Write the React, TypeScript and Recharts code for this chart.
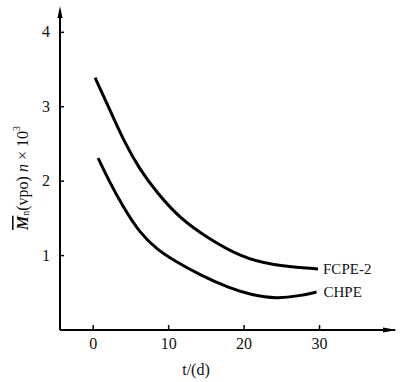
import React from "react";
import { LineChart, Line, XAxis, YAxis, ReferenceDot } from "recharts";

const fcpeT = [0.25, 2.2, 4.0, 6.2, 8.5, 11.5, 15.1, 19.6, 23.6, 29.8];
const fcpeM = [3.39, 2.96, 2.55, 2.15, 1.84, 1.5, 1.24, 0.98, 0.87, 0.82];
const chpeT = [0.65, 2.2, 4.0, 6.2, 8.5, 10.6, 14.1, 18.1, 21.0, 24.3, 27.4, 29.6];
const chpeM = [2.31, 1.98, 1.65, 1.3, 1.08, 0.94, 0.74, 0.56, 0.47, 0.42, 0.46, 0.51];
const xTicks = [0, 10, 20, 30];
const yTicks = [1, 2, 3, 4];
const seriesNames = ["FCPE-2", "CHPE"];

const fcpeData = fcpeT.map((t, i) => ({ t, m: fcpeM[i] }));
const chpeData = chpeT.map((t, i) => ({ t, m: chpeM[i] }));

const FONT = "'Liberation Serif', 'Times New Roman', serif";

const YTick = (props: any) => {
  const { x, y, payload } = props;
  return (
    <g>
      <line x1={x + 8} x2={x + 12} y1={y} y2={y} stroke="#000" strokeWidth={1.5} />
      <text x={x - 2} y={y} dy={5} textAnchor="end" style={{ fontFamily: FONT, fontSize: 16 }} fill="#111">
        {payload.value}
      </text>
    </g>
  );
};

const XTick = (props: any) => {
  const { x, y, payload } = props;
  return (
    <g>
      <line x1={x} x2={x} y1={y - 6} y2={y - 11} stroke="#000" strokeWidth={1.5} />
      <text x={x} y={y + 13} textAnchor="middle" style={{ fontFamily: FONT, fontSize: 16 }} fill="#111">
        {payload.value}
      </text>
    </g>
  );
};

const UpArrow = (props: any) => {
  const { cx, cy } = props;
  return <polygon points={`${cx},${cy - 4} ${cx - 2.5},${cy + 8} ${cx + 2.5},${cy + 8}`} fill="#000" />;
};
const RightArrow = (props: any) => {
  const { cx, cy } = props;
  return <polygon points={`${cx + 2},${cy} ${cx - 12},${cy - 2.5} ${cx - 12},${cy + 2.5}`} fill="#000" />;
};

export default function App() {
  return (
    <div style={{ position: "absolute", left: 0, top: 0, width: 400, height: 382, background: "#fff", fontFamily: FONT }}>
      <LineChart width={400} height={382} margin={{ top: 10, right: 5, bottom: 0, left: 0 }} style={{ fontFamily: FONT }}>
        <XAxis
          type="number"
          dataKey="t"
          domain={[-4.4, 40]}
          ticks={xTicks}
          tickSize={0}
          tickMargin={6}
          tick={<XTick />}
          tickLine={false}
          axisLine={{ stroke: "#000", strokeWidth: 2 }}
          height={52}
          allowDataOverflow
        />
        <YAxis
          type="number"
          dataKey="m"
          domain={[0, 4.3]}
          ticks={yTicks}
          tickSize={0}
          tickMargin={8}
          tick={<YTick />}
          tickLine={false}
          axisLine={{ stroke: "#000", strokeWidth: 2 }}
          width={60}
          allowDataOverflow
        />
        <Line data={fcpeData} dataKey="m" name={seriesNames[0]} type="basis" stroke="#000" strokeWidth={3} dot={false} isAnimationActive={false} />
        <Line data={chpeData} dataKey="m" name={seriesNames[1]} type="basis" stroke="#000" strokeWidth={3} dot={false} isAnimationActive={false} />
        <ReferenceDot x={-4.4} y={4.3} r={0} ifOverflow="visible" shape={<UpArrow />} />
        <ReferenceDot x={40} y={0} r={0} ifOverflow="visible" shape={<RightArrow />} />
        <ReferenceDot
          x={fcpeT[fcpeT.length - 1]}
          y={fcpeM[fcpeM.length - 1]}
          r={0}
          ifOverflow="visible"
          label={{ value: seriesNames[0], position: "right", offset: 5, style: { fontFamily: FONT, fontSize: 15 }, fill: "#111" }}
        />
        <ReferenceDot
          x={chpeT[chpeT.length - 1]}
          y={chpeM[chpeM.length - 1]}
          r={0}
          ifOverflow="visible"
          label={{ value: seriesNames[1], position: "right", offset: 7, style: { fontFamily: FONT, fontSize: 15 }, fill: "#111" }}
        />
        <text x={24} y={178} transform="rotate(-90 24 178)" textAnchor="middle" dominantBaseline="middle" style={{ fontFamily: FONT, fontSize: 16 }} fill="#111">
          <tspan textDecoration="overline" fontStyle="italic" fontWeight="bold">M</tspan>
          <tspan fontSize={10} dy={3}>n</tspan>
          <tspan dy={-3}>(vpo)  </tspan>
          <tspan fontStyle="italic">n</tspan>
          <tspan> × 10</tspan>
          <tspan fontSize={10} dy={-6}>3</tspan>
        </text>
        <text x={196} y={375} textAnchor="middle" style={{ fontFamily: FONT, fontSize: 16 }} fill="#111">
          t/(d)
        </text>
      </LineChart>
    </div>
  );
}
